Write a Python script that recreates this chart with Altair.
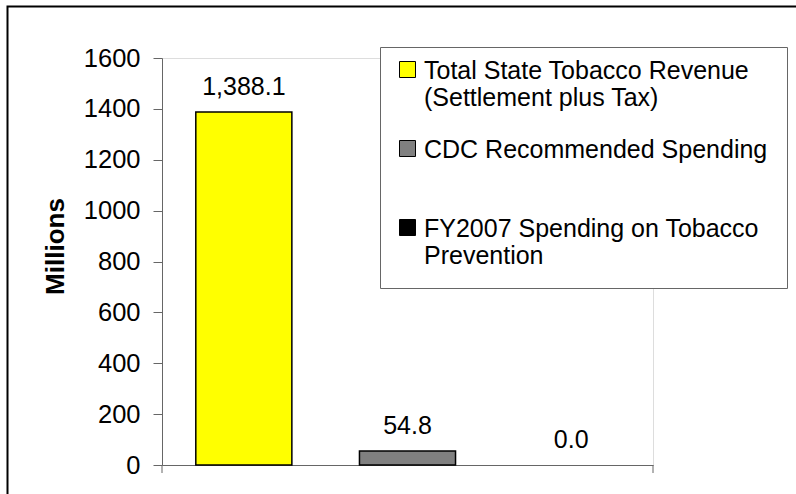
import altair as alt
import pandas as pd

categories = [
    "Total State Tobacco Revenue|(Settlement plus Tax)",
    "CDC Recommended Spending|",
    "FY2007 Spending on Tobacco|Prevention",
]
values = [1388.1, 54.8, 0.0]
colors = ["#FFFF00", "#808080", "#000000"]
y_ticks = [0, 200, 400, 600, 800, 1000, 1200, 1400, 1600]

df = pd.DataFrame({"category": categories, "value": values})
one = pd.DataFrame({"k": [0]})

FONT = "Liberation Sans"
W, H = 491, 407
AX = "#666666"

x_enc = alt.X(
    "category:N",
    sort=categories,
    scale=alt.Scale(domain=categories, paddingInner=0.413, paddingOuter=0.2065),
    axis=alt.Axis(title=None, labels=False, ticks=False, domain=True,
                  domainColor=AX, domainWidth=1),
)
y_enc = alt.Y(
    "value:Q",
    scale=alt.Scale(domain=[0, 1600], nice=False),
    axis=alt.Axis(
        values=y_ticks, format="d", grid=False, title="Millions",
        titleFont=FONT, titleFontSize=26, titleFontWeight="bold", titleColor="black",
        titleAngle=270, titleX=-106.5, titleY=188, titleAlign="center", titleBaseline="middle",
        labelFont=FONT, labelFontSize=25.5, labelColor="black", labelPadding=13,
        tickSize=9, tickColor=AX, tickWidth=1, domainColor=AX, domainWidth=1,
    ),
)

legend = alt.Legend(
    title=None, orient="none", legendX=218, legendY=-11,
    strokeColor=AX, fillColor="white", padding=19,
    symbolType="M-1.5,-2.125H0.5V-0.125H-1.5Z", symbolSize=256,
    symbolStrokeColor="black", symbolStrokeWidth=1,
    symbolOffset=0, labelOffset=0,
    labelFont=FONT, labelFontSize=25, labelColor="black", labelLimit=600,
    labelBaseline="alphabetic", rowPadding=26,
    labelExpr="split(datum.label, '|')",
)

bars = alt.Chart(df).mark_bar(stroke="black").encode(
    x=x_enc,
    y=y_enc,
    color=alt.Color("category:N", scale=alt.Scale(domain=categories, range=colors), legend=legend),
    strokeWidth=alt.condition(alt.datum.value > 0, alt.value(1.5), alt.value(0)),
)

labels = alt.Chart(df).mark_text(
    dy=-17, baseline="alphabetic", fontSize=25, font=FONT, color="black"
).encode(
    x=x_enc,
    y=y_enc,
    text=alt.Text("value:Q", format=",.1f"),
)

tick_left = alt.Chart(one).mark_rule(color=AX, strokeWidth=1).encode(
    x=alt.value(0), y=alt.value(H), y2=alt.value(H + 8)
)
tick_right = alt.Chart(one).mark_rule(color=AX, strokeWidth=1).encode(
    x=alt.value(W), y=alt.value(H), y2=alt.value(H + 8)
)
frame = alt.Chart(one).mark_rect(fillOpacity=0, stroke="black", strokeWidth=2).encode(
    x=alt.value(-154.5), x2=alt.value(W + 300), y=alt.value(-51.5), y2=alt.value(H + 100)
)

chart = alt.layer(frame, bars, labels, tick_left, tick_right).properties(
    width=W, height=H,
    autosize=alt.AutoSizeParams(type="none"),
    padding={"left": 162, "top": 58, "right": 143, "bottom": 29},
    background="white",
).configure_view(stroke=None).configure(font=FONT)

chart.save("out.html", embed_options={"renderer": "svg", "actions": False})
